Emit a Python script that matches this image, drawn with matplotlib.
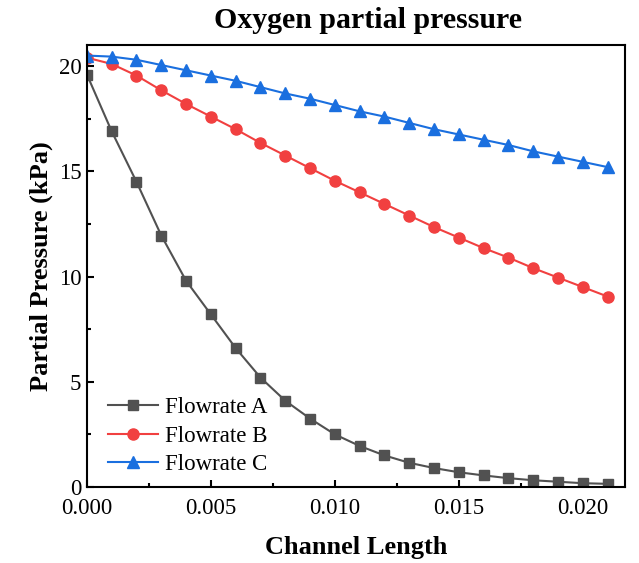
import numpy as np
import matplotlib.pyplot as plt
from matplotlib.ticker import MultipleLocator

plt.rcParams['font.family'] = ['Liberation Serif', 'DejaVu Serif']

x = np.arange(22) * 0.001
flow_a = [19.6, 16.9, 14.5, 11.95, 9.8, 8.2, 6.6, 5.2, 4.1, 3.25, 2.5, 1.95,
          1.5, 1.15, 0.9, 0.7, 0.55, 0.42, 0.32, 0.25, 0.18, 0.15]
flow_b = [20.4, 20.1, 19.55, 18.85, 18.2, 17.6, 17.0, 16.35, 15.75, 15.15, 14.55,
          14.0, 13.45, 12.9, 12.35, 11.85, 11.35, 10.9, 10.4, 9.95, 9.5, 9.05]
flow_c = [20.5, 20.45, 20.3, 20.05, 19.8, 19.55, 19.3, 19.0, 18.7, 18.45, 18.15,
          17.85, 17.6, 17.3, 17.0, 16.75, 16.5, 16.25, 15.95, 15.7, 15.45, 15.2]

fig = plt.figure(figsize=(6.39, 5.63), dpi=100)
ax = fig.add_axes([0.136, 0.135, 0.842, 0.785])

ax.plot(x, flow_a, '-s', color='#515151', lw=1.5, ms=6.5, label='Flowrate A')
ax.plot(x, flow_b, '-o', color='#F14040', lw=1.5, ms=8, label='Flowrate B')
ax.plot(x, flow_c, '-^', color='#1A6FDF', lw=1.5, ms=8, label='Flowrate C')

ax.set_xlim(0, 0.0217)
ax.set_ylim(0, 21)
ax.xaxis.set_major_locator(MultipleLocator(0.005))
ax.xaxis.set_minor_locator(MultipleLocator(0.0025))
ax.yaxis.set_major_locator(MultipleLocator(5))
ax.yaxis.set_minor_locator(MultipleLocator(2.5))
ax.xaxis.set_major_formatter(plt.FormatStrFormatter('%.3f'))
ax.tick_params(which='both', direction='in', labelsize=16.5, width=1.5)
ax.tick_params(which='major', length=5)
ax.tick_params(which='minor', length=3)
ax.tick_params(axis='x', pad=8)
ax.tick_params(axis='y', pad=4)
for s in ax.spines.values():
    s.set_linewidth(1.5)

fig.text(368 / 639, 1 - 21 / 563, 'Oxygen partial pressure', fontsize=21.5,
         fontweight='bold', ha='center', va='center')
ax.set_xlabel('Channel Length', fontsize=19, fontweight='bold', labelpad=12)
ax.set_ylabel('Partial Pressure (kPa)', fontsize=19, fontweight='bold', labelpad=4)
ax.legend(loc='lower left', frameon=False, fontsize=16.5, bbox_to_anchor=(0.0, -0.02),
          handlelength=2.2, handletextpad=0.3, labelspacing=0.33)

fig.savefig('out.png', dpi=100)
